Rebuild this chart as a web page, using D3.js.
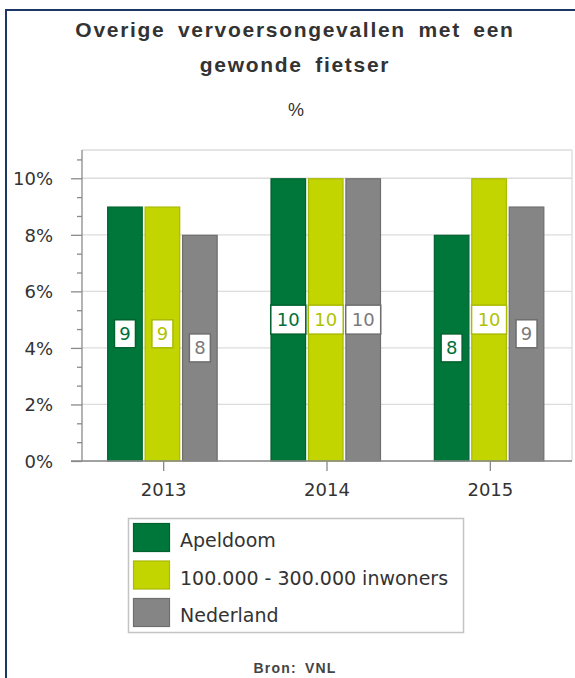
<!DOCTYPE html>
<html><head><meta charset="utf-8">
<script src="https://cdn.jsdelivr.net/npm/d3@7"></script>
<style>body{margin:0;background:#fff}svg{display:block}</style>
</head><body>
<script>
const titleLines = ["Overige vervoersongevallen met een", "gewonde fietser"];
const subtitle = "%";
const source = "Bron: VNL";
const categories = ["2013", "2014", "2015"];
const seriesNames = ["Apeldoom", "100.000 - 300.000 inwoners", "Nederland"];
const apeldoorn = [9, 10, 8];
const gemeenten = [9, 10, 10];
const nederland = [8, 10, 9];
const yTicks = [0, 2, 4, 6, 8, 10];
const colors = ["#00773a", "#c2d500", "#858585"];
const strokes = ["#00622f", "#a9ba00", "#6e6e6e"];
const textColors = ["#00703a", "#b0c300", "#7a7a7a"];
const seriesValues = [apeldoorn, gemeenten, nederland];

(function () {
const W = 575, H = 678;
const svg = d3.select("body").append("svg").attr("width", W).attr("height", H);

// outer border
svg.append("line").attr("x1", 5).attr("x2", W).attr("y1", 10).attr("y2", 10).attr("stroke", "#1c3766").attr("stroke-width", 2);
svg.append("line").attr("x1", 6).attr("x2", 6).attr("y1", 9).attr("y2", H).attr("stroke", "#1c3766").attr("stroke-width", 2);

// title
const tfont = "'Liberation Sans', Arial, sans-serif";
svg.append("text").attr("x", 295).attr("y", 37).attr("text-anchor", "middle")
  .attr("font-family", tfont).attr("font-weight", "bold").attr("font-size", 21)
  .attr("letter-spacing", 1.7).attr("word-spacing", 5).attr("fill", "#333").text(titleLines[0]);
svg.append("text").attr("x", 295).attr("y", 72).attr("text-anchor", "middle")
  .attr("font-family", tfont).attr("font-weight", "bold").attr("font-size", 21)
  .attr("letter-spacing", 1.7).attr("word-spacing", 5).attr("fill", "#333").text(titleLines[1]);
svg.append("text").attr("x", 296).attr("y", 116).attr("text-anchor", "middle")
  .attr("font-family", tfont).attr("font-size", 18).attr("fill", "#333").text(subtitle);

const pLeft = 82, pRight = 572, pTop = 150, pBottom = 461;
const x = d3.scaleBand().domain(categories).range([pLeft, pRight]);
const y = d3.scaleLinear().domain([0, 11]).range([pBottom, pTop]);
const inner = d3.scaleBand().domain(seriesNames).range([-56.5, 54]).paddingInner(0.05);

const font = "'DejaVu Sans', Verdana, sans-serif";

// gridlines
const g = svg.append("g");
g.selectAll("line.grid").data(yTicks.concat([11])).join("line")
  .attr("x1", pLeft).attr("x2", pRight).attr("y1", d => y(d)).attr("y2", d => y(d))
  .attr("stroke", "#dcdcdc").attr("stroke-width", 1.3);
g.append("line").attr("x1", pRight).attr("x2", pRight).attr("y1", pTop).attr("y2", pBottom)
  .attr("stroke", "#dcdcdc").attr("stroke-width", 1.3);

// y axis
const minor = d3.range(0, 11, 2 / 3).filter(v => Math.abs(v / 2 - Math.round(v / 2)) > 0.01);
const yAxisMajor = d3.axisLeft(y).tickValues(yTicks).tickSize(11).tickFormat(d => d + "%").tickPadding(18);
const ya = svg.append("g").attr("transform", `translate(${pLeft},0)`).call(yAxisMajor);
ya.select(".domain").remove();
ya.selectAll(".tick line").attr("stroke", "#8a8a8a").attr("stroke-width", 1.3);
ya.selectAll(".tick text").attr("font-family", font).attr("font-size", 18).attr("fill", "#333").attr("dy", "0.36em");
const ym = svg.append("g").attr("transform", `translate(${pLeft},0)`).call(d3.axisLeft(y).tickValues(minor).tickSize(5).tickFormat(""));
ym.select(".domain").remove();
ym.selectAll(".tick line").attr("stroke", "#8a8a8a").attr("stroke-width", 1.3);
svg.append("line").attr("x1", pLeft).attr("x2", pLeft).attr("y1", pTop).attr("y2", pBottom).attr("stroke", "#8a8a8a").attr("stroke-width", 1.3);

// bars
categories.forEach((c, ci) => {
  const cx = x(c) + x.bandwidth() / 2;
  seriesNames.forEach((s, si) => {
    const v = seriesValues[si][ci];
    svg.append("rect").attr("x", cx + inner(s) + 0.5).attr("y", y(v) + 0.5)
      .attr("width", inner.bandwidth() - 1).attr("height", y(0) - y(v) - 0.5)
      .attr("fill", colors[si]).attr("stroke", strokes[si]).attr("stroke-width", 1.2);
  });
});

// x axis
svg.append("line").attr("x1", 71).attr("x2", pRight).attr("y1", pBottom).attr("y2", pBottom).attr("stroke", "#8a8a8a").attr("stroke-width", 1.3);
const xa = svg.append("g").attr("transform", `translate(0,${pBottom})`).call(d3.axisBottom(x).tickSize(10).tickPadding(12));
xa.select(".domain").remove();
xa.selectAll(".tick line").attr("stroke", "#8a8a8a").attr("stroke-width", 1.3);
xa.selectAll(".tick text").attr("font-family", font).attr("font-size", 18).attr("fill", "#333");

// data labels
categories.forEach((c, ci) => {
  const cx = x(c) + x.bandwidth() / 2;
  seriesNames.forEach((s, si) => {
    const v = seriesValues[si][ci];
    const bx = cx + inner(s) + inner.bandwidth() / 2;
    const by = (y(v) + y(0)) / 2;
    const txt = String(v);
    const w = txt.length > 1 ? 35 : 21;
    const h = txt.length > 1 ? 29 : 28;
    svg.append("rect").attr("x", bx - w / 2).attr("y", by - h / 2).attr("width", w).attr("height", h)
      .attr("fill", "#fff").attr("stroke", strokes[si]).attr("stroke-width", 1.5);
    svg.append("text").attr("x", bx).attr("y", by).attr("dy", "0.36em").attr("text-anchor", "middle")
      .attr("font-family", font).attr("font-size", 18).attr("fill", textColors[si]).text(txt);
  });
});

// legend
const lg = svg.append("g");
lg.append("rect").attr("x", 128.5).attr("y", 518.5).attr("width", 335).attr("height", 114)
  .attr("fill", "#fff").attr("stroke", "#c4c4c4").attr("stroke-width", 1.5);
const legendY = d3.scalePoint().domain(seriesNames).range([523, 598]);
seriesNames.forEach((s, si) => {
  lg.append("rect").attr("x", 133.5).attr("y", legendY(s) + 0.5).attr("width", 36).attr("height", 28)
    .attr("fill", colors[si]).attr("stroke", strokes[si]).attr("stroke-width", 1.2);
  lg.append("text").attr("x", 180).attr("y", legendY(s) + 24).attr("font-family", font).attr("font-size", 19)
    .attr("fill", "#333").text(s);
});

// source
svg.append("text").attr("x", 295).attr("y", 673).attr("text-anchor", "middle")
  .attr("font-family", tfont).attr("font-weight", "bold").attr("font-size", 14)
  .attr("letter-spacing", 1.2).attr("word-spacing", 3).attr("fill", "#444").text(source);
})();
</script>
</body></html>
